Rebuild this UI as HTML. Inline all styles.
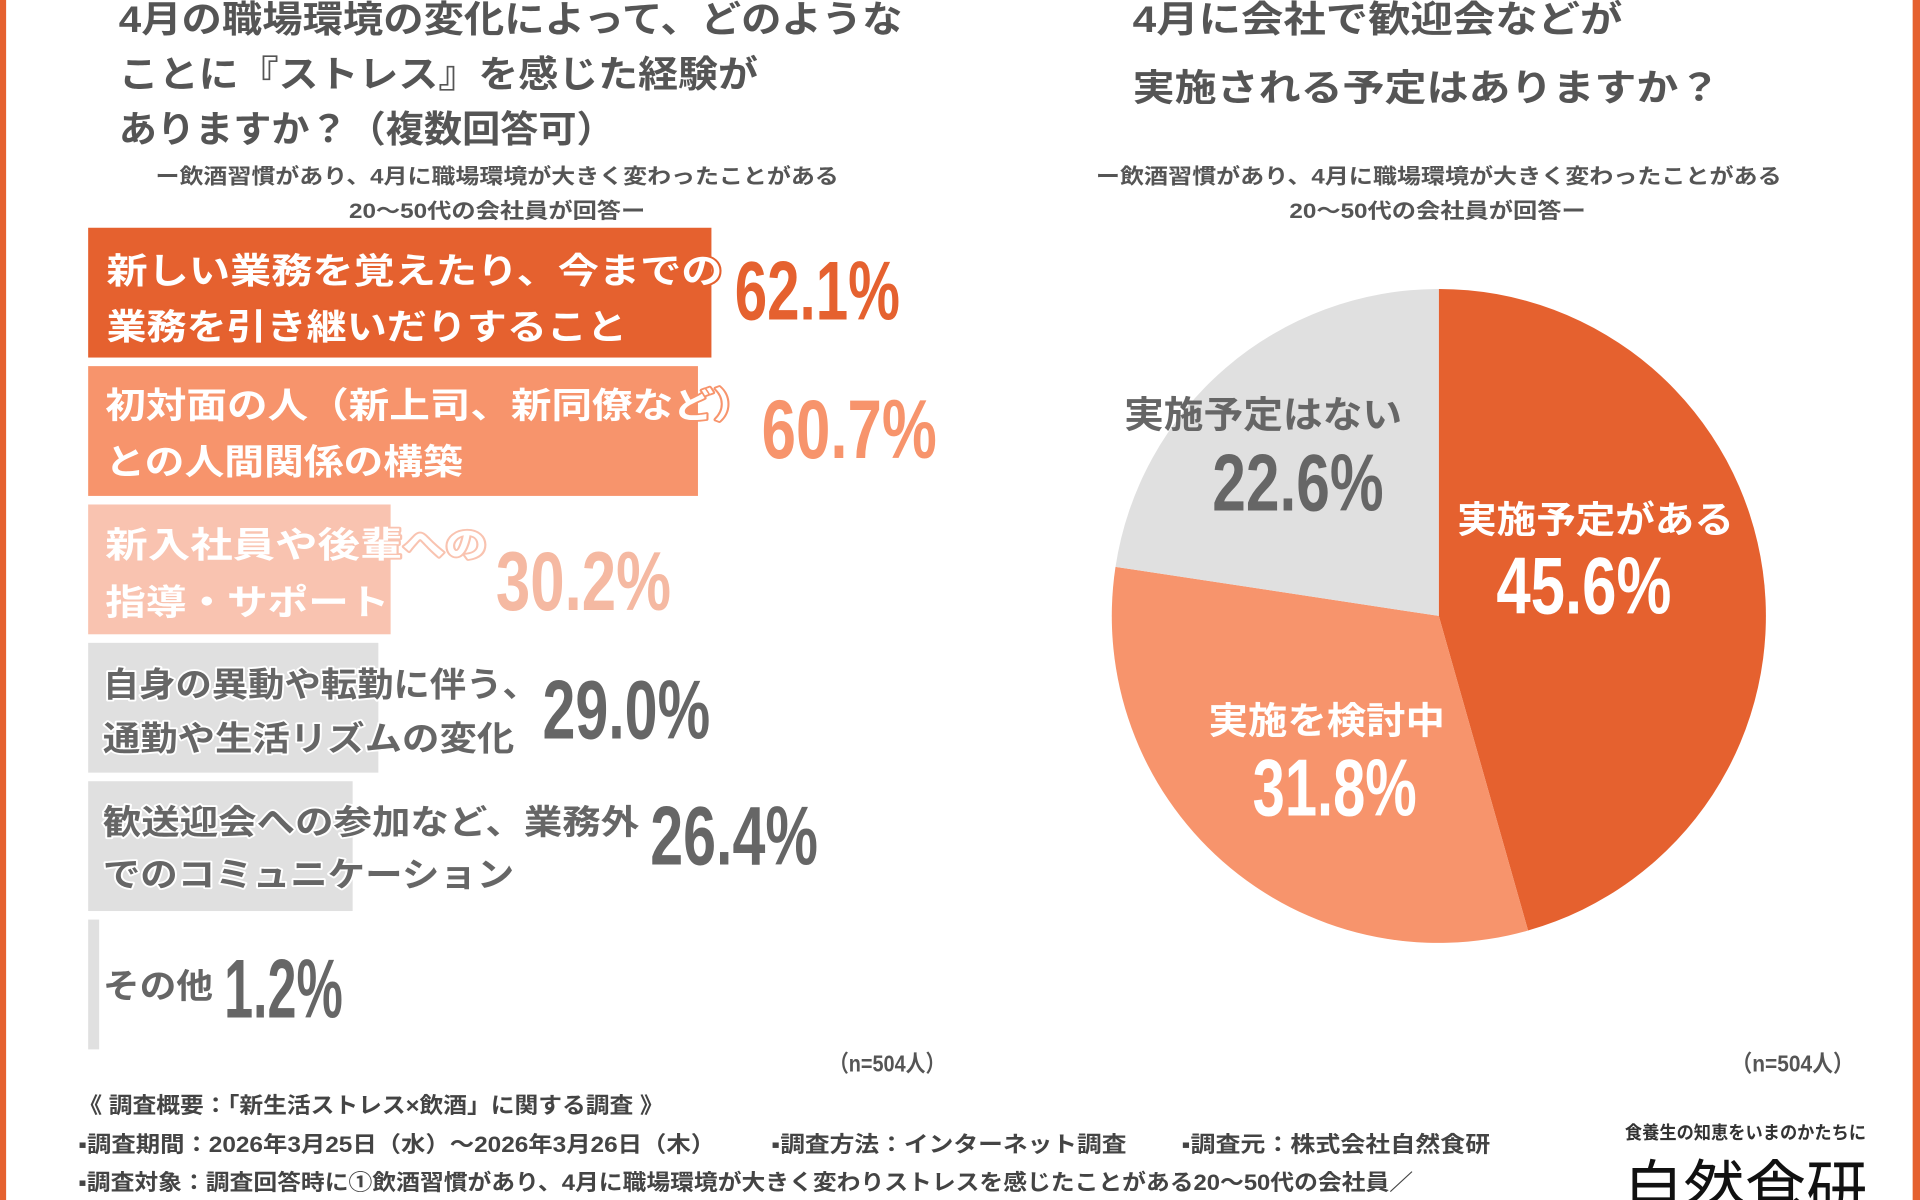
<!DOCTYPE html>
<html><head><meta charset="utf-8"><style>
html,body{margin:0;padding:0;background:#fff;}
svg{display:block;}
text{font-family:"Liberation Sans","Noto Sans CJK JP",sans-serif;font-weight:bold;}
.n{font-family:"Liberation Sans Narrow","Liberation Sans",sans-serif;font-weight:bold;}
</style></head><body>
<svg width="1920" height="1200" viewBox="0 0 1568 980" xmlns="http://www.w3.org/2000/svg">
<rect width="1568" height="980" fill="#fff"/>
<rect x="0" y="0" width="5" height="980" fill="#E5612F"/>
<rect x="1562" y="0" width="6" height="980" fill="#E5612F"/>
<g fill="#555" font-size="30">
<text x="97" y="26" textLength="640" lengthAdjust="spacingAndGlyphs">4月の職場環境の変化によって、どのような</text>
<text x="97" y="71" textLength="522" lengthAdjust="spacingAndGlyphs">ことに『ストレス』を感じた経験が</text>
<text x="97" y="116" textLength="405" lengthAdjust="spacingAndGlyphs">ありますか？（複数回答可）</text>
<text x="925" y="26" textLength="400" lengthAdjust="spacingAndGlyphs">4月に会社で歓迎会などが</text>
<text x="925" y="82" textLength="480" lengthAdjust="spacingAndGlyphs">実施される予定はありますか？</text>
</g>
<g fill="#555" font-size="17">
<text x="127" y="150" textLength="558" lengthAdjust="spacingAndGlyphs">ー飲酒習慣があり、4月に職場環境が大きく変わったことがある</text>
<text x="285" y="178" textLength="242" lengthAdjust="spacingAndGlyphs">20〜50代の会社員が回答ー</text>
<text x="895" y="150" textLength="560" lengthAdjust="spacingAndGlyphs">ー飲酒習慣があり、4月に職場環境が大きく変わったことがある</text>
<text x="1053" y="178" textLength="242" lengthAdjust="spacingAndGlyphs">20〜50代の会社員が回答ー</text>
</g>
<rect x="72" y="186" width="509" height="106" fill="#E5612F"/>
<rect x="72" y="299" width="498" height="106" fill="#F7946C"/>
<rect x="72" y="412" width="247" height="106" fill="#F9C3B0"/>
<rect x="72" y="525" width="237" height="106" fill="#E0E0E0"/>
<rect x="72" y="638" width="216" height="106" fill="#E0E0E0"/>
<rect x="72" y="751" width="9" height="106" fill="#E0E0E0"/>
<g font-size="29" fill="#fff" stroke-width="3" paint-order="stroke" stroke-linejoin="round">
<text x="87" y="231" stroke="#E5612F" textLength="503" lengthAdjust="spacingAndGlyphs">新しい業務を覚えたり、今までの</text>
<text x="87" y="277" stroke="#E5612F" textLength="425" lengthAdjust="spacingAndGlyphs">業務を引き継いだりすること</text>
<text x="86" y="341" stroke="#F7946C" textLength="530" lengthAdjust="spacingAndGlyphs">初対面の人（新上司、新同僚など）</text>
<text x="86" y="387" stroke="#F7946C" textLength="292" lengthAdjust="spacingAndGlyphs">との人間関係の構築</text>
<text x="86" y="455" stroke="#F9C3B0" textLength="312" lengthAdjust="spacingAndGlyphs">新入社員や後輩への</text>
<text x="86" y="502" stroke="#F9C3B0" textLength="232" lengthAdjust="spacingAndGlyphs">指導・サポート</text>
</g>
<g font-size="28" fill="#666" stroke="#fff" stroke-width="3" paint-order="stroke" stroke-linejoin="round">
<text x="84" y="569" textLength="356" lengthAdjust="spacingAndGlyphs">自身の異動や転勤に伴う、</text>
<text x="84" y="613" textLength="336" lengthAdjust="spacingAndGlyphs">通勤や生活リズムの変化</text>
<text x="84" y="681" textLength="438" lengthAdjust="spacingAndGlyphs">歓送迎会への参加など、業務外</text>
<text x="84" y="724" textLength="336" lengthAdjust="spacingAndGlyphs">でのコミュニケーション</text>
<text x="84" y="815" textLength="90" lengthAdjust="spacingAndGlyphs">その他</text>
</g>
<g class="n" font-size="68">
<text class="n" x="600" y="261" fill="#E5612F" textLength="135" lengthAdjust="spacingAndGlyphs">62.1%</text>
<text class="n" x="622" y="374" fill="#F7946C" textLength="143" lengthAdjust="spacingAndGlyphs">60.7%</text>
<text class="n" x="405" y="498" fill="#F5B9A2" textLength="143" lengthAdjust="spacingAndGlyphs">30.2%</text>
<text class="n" x="443" y="603" fill="#666" textLength="137" lengthAdjust="spacingAndGlyphs">29.0%</text>
<text class="n" x="531" y="706" fill="#666" textLength="137" lengthAdjust="spacingAndGlyphs">26.4%</text>
<text class="n" x="183" y="831" fill="#666" textLength="97" lengthAdjust="spacingAndGlyphs">1.2%</text>
</g>
<g font-size="19" fill="#555">
<text x="677" y="875" textLength="95" lengthAdjust="spacingAndGlyphs">（n=504人）</text>
<text x="1414" y="875" textLength="100" lengthAdjust="spacingAndGlyphs">（n=504人）</text>
</g>
<path d="M1175,503 L1175,236 A267,267 0 0,1 1247.9,759.9 Z" fill="#E5612F"/>
<path d="M1175,503 L1247.9,759.9 A267,267 0 0,1 911.0,462.9 Z" fill="#F7946C"/>
<path d="M1175,503 L911.0,462.9 A267,267 0 0,1 1175,236 Z" fill="#E0E0E0"/>
<g font-size="30">
<text x="918" y="349" fill="#666" textLength="227" lengthAdjust="spacingAndGlyphs">実施予定はない</text>
<text x="1190" y="435" fill="#fff" textLength="226" lengthAdjust="spacingAndGlyphs">実施予定がある</text>
<text x="987" y="599" fill="#fff" textLength="193" lengthAdjust="spacingAndGlyphs">実施を検討中</text>
</g>
<text class="n" x="990" y="417" font-size="66" fill="#666" textLength="140" lengthAdjust="spacingAndGlyphs">22.6%</text>
<text class="n" x="1222" y="501" font-size="66" fill="#fff" textLength="143" lengthAdjust="spacingAndGlyphs">45.6%</text>
<text class="n" x="1023" y="666" font-size="66" fill="#fff" textLength="134" lengthAdjust="spacingAndGlyphs">31.8%</text>
<g font-size="18" fill="#444">
<text x="64" y="909" textLength="478" lengthAdjust="spacingAndGlyphs">《 調査概要：「新生活ストレス×飲酒」に関する調査 》</text>
<text x="64" y="941" textLength="520" lengthAdjust="spacingAndGlyphs">▪調査期間：2026年3月25日（水）〜2026年3月26日（木）</text>
<text x="630" y="941" textLength="290" lengthAdjust="spacingAndGlyphs">▪調査方法：インターネット調査</text>
<text x="965" y="941" textLength="252" lengthAdjust="spacingAndGlyphs">▪調査元：株式会社自然食研</text>
<text x="64" y="972" textLength="1090" lengthAdjust="spacingAndGlyphs">▪調査対象：調査回答時に①飲酒習慣があり、4月に職場環境が大きく変わりストレスを感じたことがある20〜50代の会社員／</text>
</g>
<text x="1327" y="930" font-size="15" fill="#333" textLength="197" lengthAdjust="spacingAndGlyphs">食養生の知恵をいまのかたちに</text>
<text x="1325" y="992" font-size="54" fill="#111" textLength="200" lengthAdjust="spacingAndGlyphs" style="font-weight:normal">自然食研</text>
</svg>
</body></html>
